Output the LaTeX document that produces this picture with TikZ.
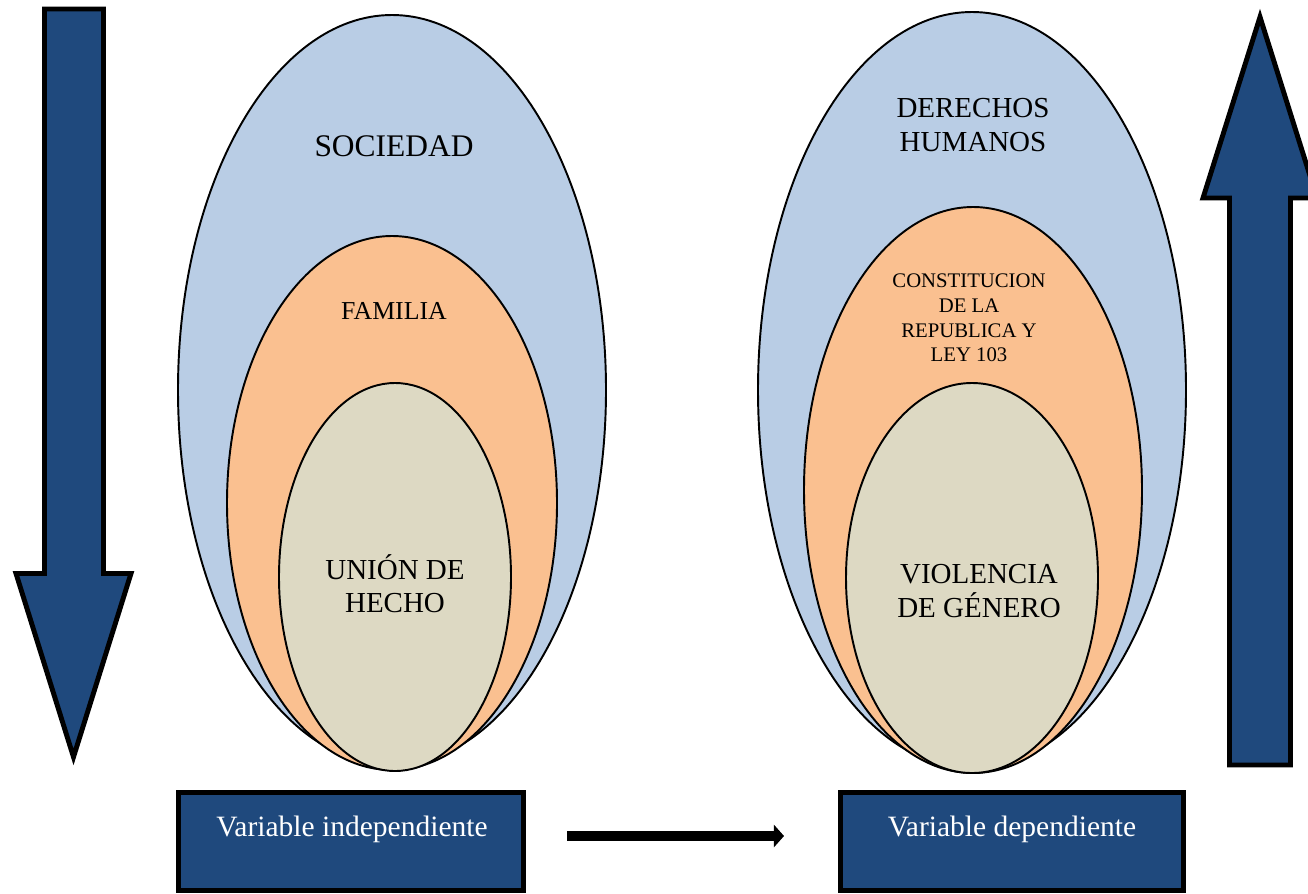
\documentclass[tikz,border=0pt]{standalone}
\usepackage{fontspec}
\setmainfont{Liberation Serif}
\usetikzlibrary{arrows.meta}

\definecolor{navyfill}{HTML}{1F497D}
\definecolor{skyfill}{HTML}{B9CDE5}
\definecolor{peachfill}{HTML}{FAC090}
\definecolor{sandfill}{HTML}{DDD9C3}

\begin{document}
\begin{tikzpicture}[
    x=0.02cm, y=-0.02cm,
    % Define styles for consistent formatting
    layer/.style={fill=#1, draw=black, line width=1.1pt},
    blockarrow/.style={fill=navyfill, draw=black, line width=2.8pt, line join=miter},
    varbox/.style={fill=navyfill, draw=black, line width=3pt},
    biglabel/.style={font=\fontsize{16.5}{18.9}\selectfont, align=center, inner sep=0pt},
    toplabel/.style={font=\fontsize{17.9}{20}\selectfont, align=center, inner sep=0pt},
    midlabel/.style={font=\fontsize{14.7}{17}\selectfont, align=center, inner sep=0pt},
    smalllabel/.style={font=\fontsize{11.8}{14}\selectfont, align=center, inner sep=0pt},
    boxlabel/.style={font=\fontsize{16.8}{18.9}\selectfont, color=white, inner sep=0pt, anchor=base}
]

% Define coordinates for better maintainability
\newcommand{\colone}{392}
\newcommand{\coltwo}{972}
\newcommand{\boxtop}{792.5}
\newcommand{\boxbottom}{890.5}

\useasboundingbox (0,0) rectangle (1308,893);

% Left block arrow (down)
\filldraw [blockarrow] (44.5,9) -- (103.5,9) -- (103.5,573.5) -- (131,573.5)
    -- (73.5,757) -- (16,573.5) -- (44.5,573.5) -- cycle;

% Right block arrow (up)
\filldraw [blockarrow] (1229.5,765) -- (1290.5,765) -- (1290.5,198) -- (1317,198)
    -- (1260,17) -- (1203,198) -- (1229.5,198) -- cycle;

% Left nested ellipses
\filldraw [layer=skyfill] (\colone,390) ellipse [x radius=214, y radius=375];
\filldraw [layer=peachfill] (\colone,503) ellipse [x radius=165, y radius=267];
\filldraw [layer=sandfill] (\colone+3,577) ellipse [x radius=116, y radius=194];

% Right nested ellipses
\filldraw [layer=skyfill] (\coltwo,390) ellipse [x radius=214, y radius=378];
\filldraw [layer=peachfill] (\coltwo+1,490) ellipse [x radius=169, y radius=283];
\filldraw [layer=sandfill] (\coltwo,578) ellipse [x radius=126, y radius=195];

% Ellipse labels
\node [toplabel] (sociedad) at (\colone+2,146) {SOCIEDAD};
\node [midlabel] (familia) at (\colone+2,311) {FAMILIA};
\node [biglabel] (union) at (\colone+3,584) {UNIÓN DE\\HECHO};
\node [biglabel] (derechos) at (\coltwo+1,125) {DERECHOS\\HUMANOS};
\node [smalllabel] (constitucion) at (\coltwo-3,318) {CONSTITUCION\\DE LA\\REPUBLICA Y\\LEY 103};
\node [biglabel] (violencia) at (\coltwo+7,591) {VIOLENCIA\\DE GÉNERO};

% Variable boxes
\filldraw [varbox] (178.5,\boxtop) rectangle (523.5,\boxbottom);
\filldraw [varbox] (840.5,\boxtop) rectangle (1183.5,\boxbottom);
\node [boxlabel] (indep) at (352,836) {Variable independiente};
\node [boxlabel] (dep) at (1012,836) {Variable dependiente};

% Arrow between the variables
\coordinate (flowstart) at (567,836);
\coordinate (flowend) at (784,836);
\draw [line width=5.4pt, -{Triangle[length=5.7pt, width=12.5pt]}] (flowstart) -- (flowend);

\end{tikzpicture}
\end{document}
